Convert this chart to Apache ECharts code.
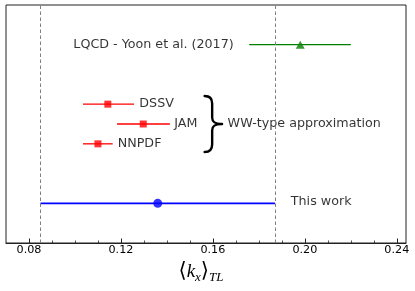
<!DOCTYPE html>
<html>
<head>
<meta charset="utf-8">
<script src="https://cdn.jsdelivr.net/npm/echarts@6/dist/echarts.min.js"></script>
<style>html,body{margin:0;padding:0;background:#fff;}#c{width:415px;height:291px;}</style>
</head>
<body>
<div id="c"></div>
<script>
// ---- data ----
const rowNames = ['LQCD - Yoon et al. (2017)', 'DSSV', 'JAM', 'NNPDF', 'This work'];
const rowY     = [5, 3.5, 3, 2.5, 1];
const centers  = [0.198, 0.1143, 0.1297, 0.110, 0.136];
const lows     = [0.1758, 0.1035, 0.1183, 0.1035, 0.085];
const highs    = [0.220, 0.1257, 0.1413, 0.1164, 0.187];
const dashedX  = [0.085, 0.187];
const majorTicks = [0.08, 0.12, 0.16, 0.20, 0.24];
const minorTicks = [0.09, 0.10, 0.11, 0.13, 0.14, 0.15, 0.17, 0.18, 0.19, 0.21, 0.22, 0.23];
// text annotations
const labelX = [0.0993, 0.128, 0.1432, 0.1186, 0.1939];
const labelY = [5, 3.5, 3, 2.5, 1.04];
const groupLabel = 'WW-type approximation';
const groupLabelPos = [0.1664, 3];
const bracePos = [0.1602, 3];

const rowColors = ['#008000', '#ff0000', '#ff0000', '#ff0000', '#0000ff'];
const rowWidths = [1.2, 1.3, 1.3, 1.3, 1.6];

const chart = echarts.init(document.getElementById('c'));
const FONT = 'DejaVu Sans';

const option = {
  animation: false,
  backgroundColor: '#fff',
  grid: { left: 6, right: 9, top: 5, bottom: 48, show: true, borderColor: '#222', borderWidth: 1, backgroundColor: 'transparent' },
  xAxis: [{
    type: 'value', min: 0.07, max: 0.244,
    axisLine: { show: true, lineStyle: { color: '#222', width: 1 } },
    axisTick: { show: true, inside: true, length: 4.5, customValues: majorTicks, lineStyle: { color: '#222', width: 1 } },
    axisLabel: { show: true, customValues: majorTicks, formatter: v => v.toFixed(2), color: '#000', fontFamily: FONT, fontSize: 11.2, margin: 2 },
    splitLine: { show: false },
    name: '{a|⟨}{k|k}{s|x}{a|⟩}{s|TL}',
    nameLocation: 'middle', nameGap: 17,
    nameTextStyle: {
      padding: [0, 10, 0, 0],
      rich: {
        a: { fontFamily: 'DejaVu Serif', fontSize: 21, color: '#000', lineHeight: 24, verticalAlign: 'middle' },
        k: { fontFamily: 'Liberation Serif', fontStyle: 'italic', fontSize: 19, color: '#000', lineHeight: 24, verticalAlign: 'middle' },
        s: { fontFamily: 'Liberation Serif', fontStyle: 'italic', fontSize: 13, color: '#000', lineHeight: 24, verticalAlign: 'bottom' }
      }
    }
  }, {
    type: 'value', min: 0.07, max: 0.244, position: 'bottom',
    axisLine: { show: false },
    axisTick: { show: true, inside: true, length: 2.5, customValues: minorTicks, lineStyle: { color: '#222', width: 0.8 } },
    axisLabel: { show: false },
    splitLine: { show: false }
  }],
  yAxis: { type: 'value', min: 0, max: 6, show: false, splitLine: { show: false } },
  series: [
    {
      type: 'line', data: [], silent: true,
      markLine: {
        silent: true, symbol: ['none', 'none'], label: { show: false }, precision: 6,
        lineStyle: { color: '#808080', type: [3.5, 2.5], width: 1 },
        data: dashedX.map(x => ({ xAxis: x }))
      }
    },
    {
      type: 'custom', silent: true,
      data: rowY.map((y, i) => [lows[i], highs[i], y, i]),
      renderItem: (params, api) => {
        const i = api.value(3);
        const p1 = api.coord([api.value(0), api.value(2)]);
        const p2 = api.coord([api.value(1), api.value(2)]);
        return { type: 'line', shape: { x1: p1[0], y1: p1[1], x2: p2[0], y2: p2[1] },
                 style: { stroke: rowColors[i], lineWidth: rowWidths[i] } };
      }
    },
    {
      type: 'scatter', symbol: 'triangle', symbolSize: [9, 8], silent: true,
      itemStyle: { color: '#008000' },
      data: [[centers[0], rowY[0]]]
    },
    {
      type: 'scatter', symbol: 'rect', symbolSize: 7, silent: true,
      itemStyle: { color: '#ff0000' },
      data: [1, 2, 3].map(i => [centers[i], rowY[i]])
    },
    {
      type: 'scatter', symbol: 'circle', symbolSize: 9, silent: true,
      itemStyle: { color: '#0000ff' },
      data: [[centers[4], rowY[4]]]
    },
    {
      type: 'scatter', symbolSize: 0, silent: true,
      data: rowNames.map((n, i) => ({ value: [labelX[i], labelY[i]], name: n }))
        .concat([{ value: groupLabelPos, name: groupLabel }]),
      label: { show: true, position: 'right', distance: 0, formatter: p => p.name,
               color: '#000', fontFamily: FONT, fontSize: 12.7 }
    },
    {
      type: 'custom', silent: true,
      data: [bracePos],
      renderItem: (params, api) => {
        const c = api.coord([api.value(0), api.value(1)]);
        const w = 17.4, h = 57, sx = 7.5;
        const d = 'M0,0.5 C5,0.5 ' + sx + ',2.5 ' + sx + ',8 L' + sx + ',22 C' + sx + ',26.5 10,28.5 ' + w + ',28.5 ' +
                  'C10,28.5 ' + sx + ',30.5 ' + sx + ',35 L' + sx + ',49 C' + sx + ',54.5 5,56.5 0,56.5';
        return { type: 'path', x: c[0] - w / 2, y: c[1] - h / 2,
                 shape: { pathData: d },
                 style: { stroke: '#000', lineWidth: 2.4, fill: null, lineCap: 'round', lineJoin: 'round' } };
      }
    }
  ]
};
chart.setOption(option);
</script>
</body>
</html>
